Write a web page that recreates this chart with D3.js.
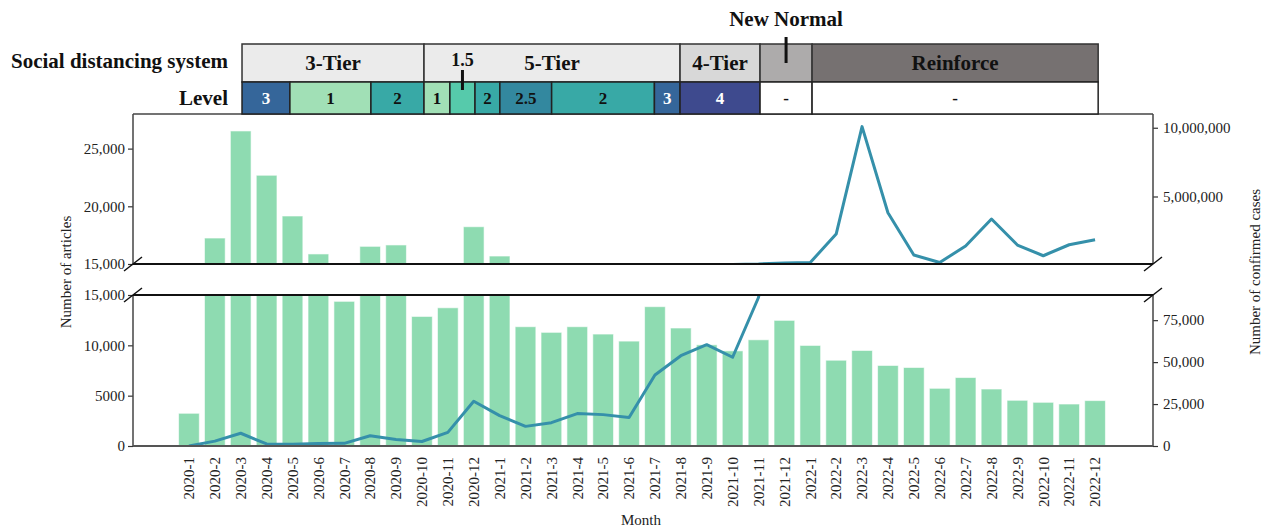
<!DOCTYPE html>
<html>
<head>
<meta charset="utf-8">
<script src="https://cdn.jsdelivr.net/npm/d3@7"></script>
<style>
  body { margin: 0; background: #fff; }
  text { font-family: "Liberation Serif", "Times New Roman", serif; }
</style>
</head>
<body>
<div id="chart"></div>
<script>
const months = ["2020-1", "2020-2", "2020-3", "2020-4", "2020-5", "2020-6", "2020-7", "2020-8", "2020-9", "2020-10", "2020-11", "2020-12",
  "2021-1", "2021-2", "2021-3", "2021-4", "2021-5", "2021-6", "2021-7", "2021-8", "2021-9", "2021-10", "2021-11", "2021-12",
  "2022-1", "2022-2", "2022-3", "2022-4", "2022-5", "2022-6", "2022-7", "2022-8", "2022-9", "2022-10", "2022-11", "2022-12"];
const articles = [3250, 17250, 26530, 22690, 19160, 15870, 14370, 16530, 16650, 12870, 13730, 18230,
  15690, 11850, 11290, 11850, 11120, 10420, 13840, 11720, 10050, 9450, 10550, 12480,
  9990, 8520, 9490, 8000, 7800, 5730, 6800, 5660, 4540, 4340, 4170, 4510];
const cases = [11, 2900, 7600, 1200, 1100, 1500, 1600, 6100, 3900, 2700, 8100, 26700,
  18100, 11700, 13900, 19300, 18700, 17000, 42300, 53800, 60400, 52900, 88500, 170000,
  200000, 2270000, 10080000, 3820000, 745000, 200000, 1400000, 3360000, 1470000, 690000, 1490000, 1860000];

const leftTopTicks = [15000, 20000, 25000], leftTopLabels = ["15,000", "20,000", "25,000"];
const leftBotTicks = [0, 5000, 10000, 15000], leftBotLabels = ["0", "5000", "10,000", "15,000"];
const rightTopTicks = [5000000, 10000000], rightTopLabels = ["5,000,000", "10,000,000"];
const rightBotTicks = [0, 25000, 50000, 75000], rightBotLabels = ["0", "25,000", "50,000", "75,000"];

// periods in month-index units (0 = 2020-1)
const systems = [
  { name: "3-Tier", from: 2.05, to: 9.08 },
  { name: "5-Tier", from: 9.08, to: 18.97 },
  { name: "4-Tier", from: 18.97, to: 22.06 },
  { name: "", from: 22.06, to: 24.07 },
  { name: "Reinforce", from: 24.07, to: 35.12 },
];
const levels = [
  { level: "3", from: 2.05, to: 3.9 },
  { level: "1", from: 3.9, to: 7.03 },
  { level: "2", from: 7.03, to: 9.08 },
  { level: "1", from: 9.08, to: 10.08 },
  { level: "1.5", from: 10.08, to: 11.05 },
  { level: "2", from: 11.05, to: 12.01 },
  { level: "2.5", from: 12.01, to: 14.01 },
  { level: "2", from: 14.01, to: 17.98 },
  { level: "3", from: 17.98, to: 18.97 },
  { level: "4", from: 18.97, to: 22.06 },
  { level: "-", from: 22.06, to: 24.07 },
  { level: "-", from: 24.07, to: 35.12 },
];

const systemColor = { "3-Tier": "#ebebeb", "5-Tier": "#ebebeb", "4-Tier": "#d8d8d8", "": "#adabab", Reinforce: "#767171" };
const levelColor = { "1": "#a1e0b6", "1.5": "#56caab", "2": "#38a9a6", "2.5": "#33889f", "3": "#35669a", "4": "#3e4a8e", "-": "#ffffff" };

const width = 1268, height = 529,
  plotL = 133, plotR = 1153,
  topT = 114, topB = 264, botT = 295, botB = 446,
  row1 = 44, row2 = 82;

const svg = d3.select("#chart").append("svg").attr("width", width).attr("height", height);

const x = d3.scaleBand().domain(months).range([176, 1108]).paddingInner(0.2).paddingOuter(0.1);
const bw = x.bandwidth();
const xm = d3.scaleLinear().domain([0, months.length - 1]).range([x(months[0]) + bw / 2, x(months[months.length - 1]) + bw / 2]);

const yTop = d3.scaleLinear().domain([15000, 28000]).range([topB, topT]);
const yBot = d3.scaleLinear().domain([0, 15000]).range([botB, botT]);
const cTop = d3.scaleLinear().domain([90000, 11000000]).range([topB, topT]);
const cBot = d3.scaleLinear().domain([0, 90000]).range([botB, botT]);

const defs = svg.append("defs");
defs.append("clipPath").attr("id", "clipTop").append("rect").attr("x", plotL).attr("y", topT).attr("width", plotR - plotL).attr("height", topB - topT);
defs.append("clipPath").attr("id", "clipBot").append("rect").attr("x", plotL).attr("y", botT).attr("width", plotR - plotL).attr("height", botB - botT);

const barColor = "#8edbb1", lineColor = "#3590aa";

// top panel
const gTop = svg.append("g").attr("clip-path", "url(#clipTop)");
gTop.selectAll("rect").data(articles).enter().append("rect")
  .attr("x", (d, i) => x(months[i]))
  .attr("width", bw)
  .attr("y", (d) => yTop(Math.max(d, 15000)))
  .attr("height", (d) => Math.max(0, topB - yTop(d)))
  .attr("fill", barColor)
  .attr("stroke", "#ffffff").attr("stroke-opacity", 0.6).attr("stroke-width", 1);
gTop.append("path").datum(cases)
  .attr("d", d3.line().x((d, i) => xm(i)).y((d) => cTop(d)))
  .attr("fill", "none").attr("stroke", lineColor).attr("stroke-width", 3).attr("stroke-linejoin", "round");

// bottom panel
const gBot = svg.append("g").attr("clip-path", "url(#clipBot)");
gBot.selectAll("rect").data(articles).enter().append("rect")
  .attr("x", (d, i) => x(months[i]))
  .attr("width", bw)
  .attr("y", (d) => yBot(Math.min(d, 16000)))
  .attr("height", (d) => botB - yBot(Math.min(d, 16000)))
  .attr("fill", barColor)
  .attr("stroke", "#ffffff").attr("stroke-opacity", 0.6).attr("stroke-width", 1);
gBot.append("path").datum(cases)
  .attr("d", d3.line().x((d, i) => xm(i)).y((d) => cBot(Math.min(d, 200000))))
  .attr("fill", "none").attr("stroke", lineColor).attr("stroke-width", 3).attr("stroke-linejoin", "round");

// axes
function styleAxis(g) {
  g.select(".domain").remove();
  g.selectAll(".tick line").attr("stroke", "#333").attr("stroke-width", 1.2);
  g.selectAll(".tick text").attr("font-size", 15).attr("fill", "#222").style("font-family", "Liberation Serif");
}
svg.append("g").attr("transform", `translate(${plotL},0)`)
  .call(d3.axisLeft(yTop).tickValues(leftTopTicks).tickFormat((d, i) => leftTopLabels[i]).tickSize(5).tickPadding(3)).call(styleAxis);
svg.append("g").attr("transform", `translate(${plotL},0)`)
  .call(d3.axisLeft(yBot).tickValues(leftBotTicks).tickFormat((d, i) => leftBotLabels[i]).tickSize(5).tickPadding(3)).call(styleAxis);
svg.append("g").attr("transform", `translate(${plotR},0)`)
  .call(d3.axisRight(cTop).tickValues(rightTopTicks).tickFormat((d, i) => rightTopLabels[i]).tickSize(5).tickPadding(5)).call(styleAxis);
svg.append("g").attr("transform", `translate(${plotR},0)`)
  .call(d3.axisRight(cBot).tickValues(rightBotTicks).tickFormat((d, i) => rightBotLabels[i]).tickSize(5).tickPadding(5)).call(styleAxis);

// frame
const frame = svg.append("g").attr("fill", "none");
frame.append("line").attr("x1", plotL).attr("x2", plotR).attr("y1", topT).attr("y2", topT).attr("stroke", "#444").attr("stroke-width", 1.5);
frame.append("line").attr("x1", plotL).attr("x2", plotL).attr("y1", topT).attr("y2", topB).attr("stroke", "#444").attr("stroke-width", 1.5);
frame.append("line").attr("x1", plotR).attr("x2", plotR).attr("y1", topT).attr("y2", topB).attr("stroke", "#444").attr("stroke-width", 1.5);
frame.append("line").attr("x1", plotL).attr("x2", plotL).attr("y1", botT).attr("y2", botB).attr("stroke", "#444").attr("stroke-width", 1.5);
frame.append("line").attr("x1", plotR).attr("x2", plotR).attr("y1", botT).attr("y2", botB).attr("stroke", "#444").attr("stroke-width", 1.5);
frame.append("line").attr("x1", plotL).attr("x2", plotR).attr("y1", botB).attr("y2", botB).attr("stroke", "#555").attr("stroke-width", 2);
frame.append("line").attr("x1", plotL).attr("x2", plotR).attr("y1", topB).attr("y2", topB).attr("stroke", "#111").attr("stroke-width", 2.2);
frame.append("line").attr("x1", plotL).attr("x2", plotR).attr("y1", botT).attr("y2", botT).attr("stroke", "#111").attr("stroke-width", 2.2);
[[plotL, topB], [plotL, botT], [plotR, topB], [plotR, botT]].forEach(([bx, by]) => {
  frame.append("line").attr("x1", bx - 9).attr("y1", by + 7).attr("x2", bx + 9).attr("y2", by - 7).attr("stroke", "#111").attr("stroke-width", 1.5);
});

// x labels
svg.append("g").selectAll("text").data(months).enter().append("text")
  .attr("transform", (d) => `translate(${x(d) + bw / 2},457) rotate(-90)`)
  .attr("text-anchor", "end").attr("dy", "0.35em")
  .attr("font-size", 15).attr("fill", "#222")
  .text((d) => d);

svg.append("text").attr("x", 641).attr("y", 525).attr("text-anchor", "middle").attr("font-size", 15).attr("fill", "#222").text("Month");
svg.append("text").attr("transform", "translate(66,272) rotate(-90)").attr("text-anchor", "middle").attr("dy", "0.35em")
  .attr("font-size", 15).attr("fill", "#222").text("Number of articles");
svg.append("text").attr("transform", "translate(1255,272) rotate(-90)").attr("text-anchor", "middle").attr("dy", "0.35em")
  .attr("font-size", 15).attr("fill", "#222").text("Number of confirmed cases");

// header table
const head = svg.append("g");
head.selectAll(".sys").data(systems).enter().append("rect")
  .attr("x", (d) => xm(d.from)).attr("width", (d) => xm(d.to) - xm(d.from))
  .attr("y", row1).attr("height", row2 - row1)
  .attr("fill", (d) => systemColor[d.name]).attr("stroke", "#333").attr("stroke-width", 1.5);
head.selectAll(".systext").data(systems).enter().append("text")
  .attr("x", (d) => (xm(d.from) + xm(d.to)) / 2).attr("y", 70)
  .attr("text-anchor", "middle").attr("font-size", 21).attr("font-weight", "bold").attr("fill", "#111")
  .text((d) => d.name);
head.selectAll(".lev").data(levels).enter().append("rect")
  .attr("x", (d) => xm(d.from)).attr("width", (d) => xm(d.to) - xm(d.from))
  .attr("y", row2).attr("height", topT - row2)
  .attr("fill", (d) => levelColor[d.level]).attr("stroke", "#222").attr("stroke-width", 1.5);
head.selectAll(".levtext").data(levels.filter((d) => d.level !== "1.5")).enter().append("text")
  .attr("x", (d) => (xm(d.from) + xm(d.to)) / 2).attr("y", 104)
  .attr("text-anchor", "middle").attr("font-size", 17).attr("font-weight", "bold")
  .attr("fill", (d) => (d.level === "3" || d.level === "4" ? "#fff" : "#111"))
  .text((d) => d.level);

// callouts
const lv15 = levels.find((d) => d.level === "1.5");
const c15 = (xm(lv15.from) + xm(lv15.to)) / 2;
head.append("text").attr("x", c15).attr("y", 66).attr("text-anchor", "middle").attr("font-size", 18).attr("font-weight", "bold").attr("fill", "#111").text("1.5");
head.append("line").attr("x1", c15).attr("x2", c15).attr("y1", 70).attr("y2", 90).attr("stroke", "#111").attr("stroke-width", 3);
const nn = systems[3];
const cnn = (xm(nn.from) + xm(nn.to)) / 2;
head.append("text").attr("x", cnn).attr("y", 26).attr("text-anchor", "middle").attr("font-size", 21).attr("font-weight", "bold").attr("fill", "#111").text("New Normal");
head.append("line").attr("x1", cnn).attr("x2", cnn).attr("y1", 37).attr("y2", 63).attr("stroke", "#111").attr("stroke-width", 3);

head.append("text").attr("x", 228).attr("y", 68).attr("text-anchor", "end").attr("font-size", 21).attr("font-weight", "bold").attr("fill", "#111").text("Social distancing system");
head.append("text").attr("x", 228).attr("y", 105).attr("text-anchor", "end").attr("font-size", 21).attr("font-weight", "bold").attr("fill", "#111").text("Level");
</script>
</body>
</html>
